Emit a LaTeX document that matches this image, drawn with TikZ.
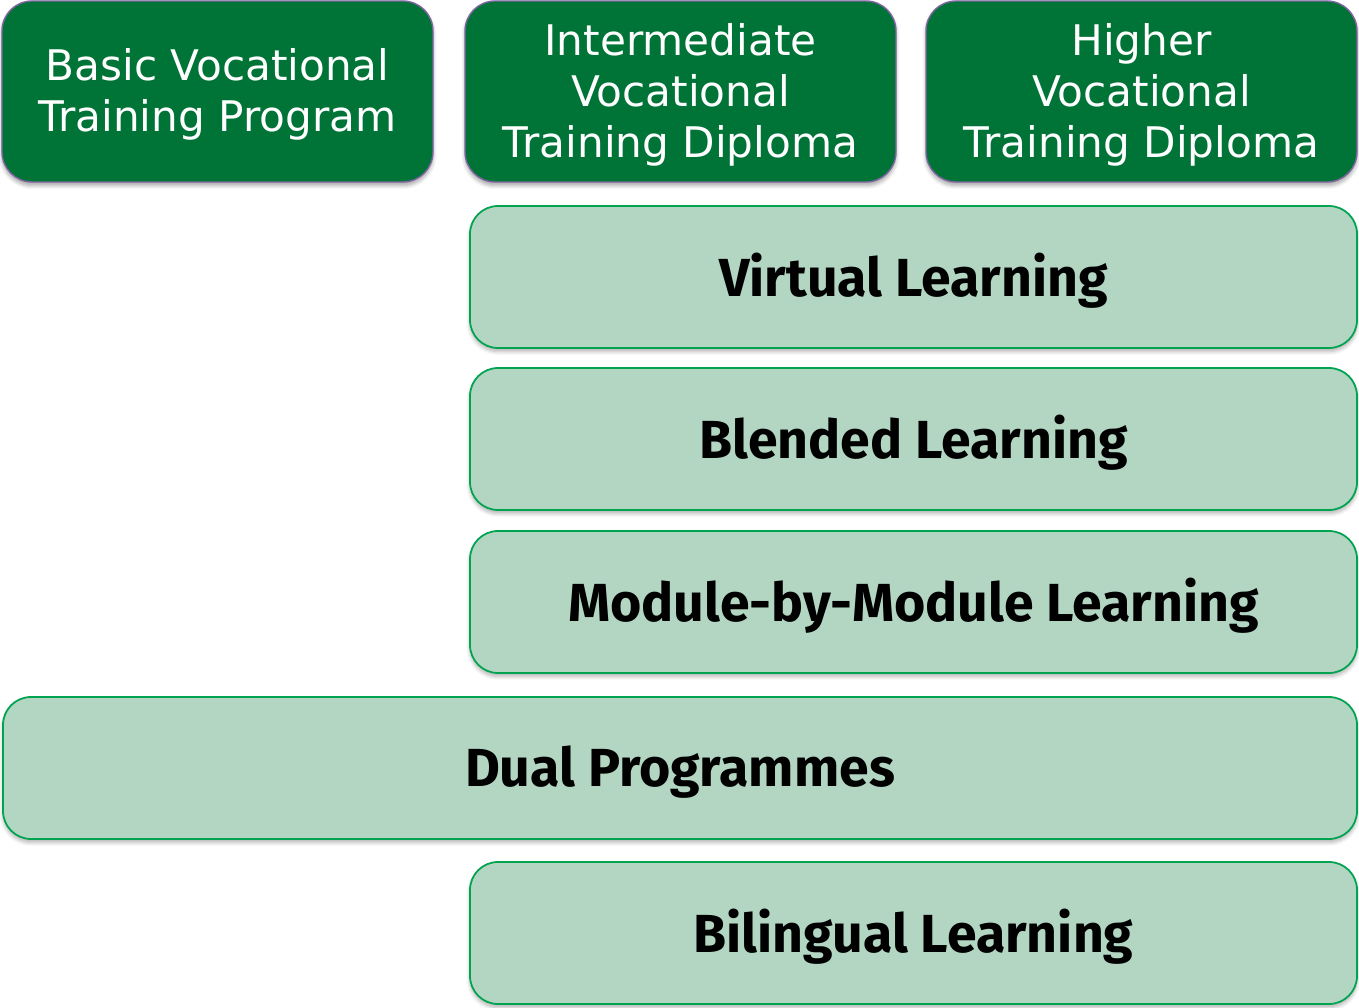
\documentclass[tikz,border=0pt]{standalone}
\usepackage{fontspec}
\setmainfont{DejaVu Sans}
\newfontfamily\headfont{Fira Sans}
\usepackage{tikz}
\usetikzlibrary{positioning, shadows.blur}

\definecolor{darkgreen}{RGB}{0,115,55}
\definecolor{purpleline}{RGB}{128,100,162}
\definecolor{palegreen}{RGB}{179,214,195}
\definecolor{greenline}{RGB}{0,163,80}

\tikzset{
    levelbox/.style={draw=purpleline, line width=0.8pt, fill=darkgreen, rounded corners=0.6cm,
        minimum width=8.62cm, minimum height=3.62cm, outer sep=0pt, text=white, align=center,
        text depth=1.5pt, font=\fontsize{24}{29}\selectfont,
        blur shadow={shadow xshift=0pt, shadow yshift=-2pt, shadow blur steps=6, shadow opacity=35}},
    modebox/.style={draw=greenline, line width=1pt, fill=palegreen, rounded corners=0.56cm,
        minimum width=17.74cm, minimum height=2.84cm, outer sep=0pt, align=center,
        text depth=2pt, font=\headfont\bfseries\fontsize{30.5}{37}\selectfont,
        blur shadow={shadow xshift=0pt, shadow yshift=-2pt, shadow blur steps=6, shadow opacity=30}}
}

\begin{document}
\begin{tikzpicture}
    \useasboundingbox (0,0) rectangle (27.18,-20.16);

    % Qualification levels
    \node[levelbox, anchor=north west] (basic) at (0.04,-0.02) {Basic Vocational\\Training Program};
    \node[levelbox] (inter) [right=0.64cm of basic] {Intermediate\\Vocational\\Training Diploma};
    \node[levelbox] (higher) [right=0.6cm of inter] {Higher\\Vocational\\Training Diploma};

    % Learning modes
    \node[modebox] (virtual) [below=0.48cm of higher.south east, anchor=north east] {Virtual Learning};
    \node[modebox] (blended) [below=0.4cm of virtual] {Blended Learning};
    \node[modebox] (module) [below=0.42cm of blended] {Module-by-Module Learning};
    \node[modebox, minimum width=27.08cm] (dual) [below=0.48cm of module.south east, anchor=north east] {Dual Programmes};
    \node[modebox] (bilingual) [below=0.46cm of dual.south east, anchor=north east] {Bilingual Learning};
\end{tikzpicture}
\end{document}
